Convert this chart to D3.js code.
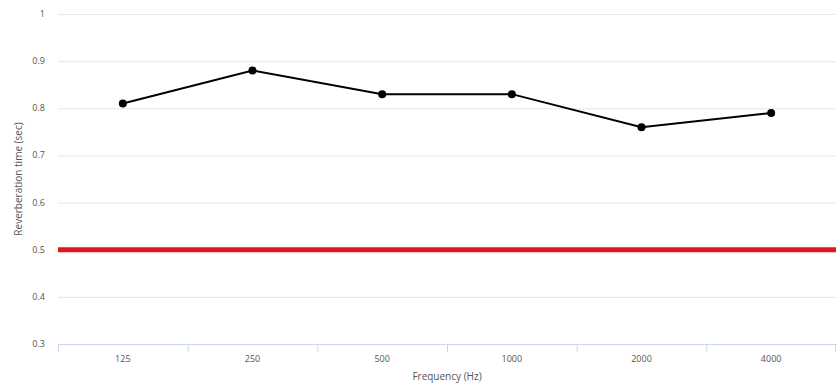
<!DOCTYPE html>
<html>
<head>
<meta charset="utf-8">
<script src="https://cdn.jsdelivr.net/npm/d3@7"></script>
<style>
  html, body { margin: 0; padding: 0; background: #fff; }
  svg { display: block; font-family: "Open Sans", "Liberation Sans", sans-serif; }
</style>
</head>
<body>
<div id="chart"></div>
<script>
// chart values
const frequencies = ["125", "250", "500", "1000", "2000", "4000"];
const reverbTimes = [0.81, 0.88, 0.83, 0.83, 0.76, 0.79];
const yTicks = [0.3, 0.4, 0.5, 0.6, 0.7, 0.8, 0.9, 1];
const targetValue = 0.5;

const width = 840;
const height = 390;
const marginTop = 14;
const marginRight = 4;
const marginBottom = 46;
const marginLeft = 58;

const x = d3.scaleBand()
    .domain(frequencies)
    .range([marginLeft, width - marginRight]);

const y = d3.scaleLinear()
    .domain([0.3, 1])
    .range([height - marginBottom, marginTop]);

const svg = d3.select("#chart")
    .append("svg")
    .attr("width", width)
    .attr("height", height)
    .attr("viewBox", [0, 0, width, height]);

// horizontal grid
svg.append("g")
    .selectAll("line")
    .data(yTicks.filter(d => d > 0.3))
    .join("line")
    .attr("x1", marginLeft)
    .attr("x2", width - marginRight)
    .attr("y1", d => y(d) + 0.5)
    .attr("y2", d => y(d) + 0.5)
    .attr("stroke", "#e6e6e6")
    .attr("stroke-width", 1);

// y tick labels
svg.append("g")
    .selectAll("text")
    .data(yTicks)
    .join("text")
    .attr("x", marginLeft - 13)
    .attr("y", d => y(d) + 3)
    .attr("text-anchor", "end")
    .attr("font-size", 9)
    .attr("fill", "#555")
    .text(d => d3.format("~g")(d));

// x axis
const xAxis = svg.append("g")
    .attr("transform", `translate(0,${height - marginBottom})`)
    .call(d3.axisBottom(x).tickSize(0).tickPadding(12))
    .call(g => g.select(".domain").attr("stroke", "#ccd6eb"))
    .call(g => g.selectAll(".tick text").attr("font-size", 9).attr("fill", "#555")
        .attr("font-family", "\"Open Sans\", sans-serif"));

// x tick marks on band edges
svg.append("g")
    .selectAll("line")
    .data(frequencies.concat(["end"]))
    .join("line")
    .attr("x1", (d, i) => i < frequencies.length ? x(d) + 0.5 : x.range()[1] - 0.5)
    .attr("x2", (d, i) => i < frequencies.length ? x(d) + 0.5 : x.range()[1] - 0.5)
    .attr("y1", height - marginBottom)
    .attr("y2", height - marginBottom + 8)
    .attr("stroke", "#ccd6eb");

// target line
svg.append("line")
    .attr("x1", marginLeft)
    .attr("x2", width - marginRight)
    .attr("y1", y(targetValue))
    .attr("y2", y(targetValue))
    .attr("stroke", "#e0161c")
    .attr("stroke-width", 5);

// series line
const points = frequencies.map((f, i) => ({ f, v: reverbTimes[i] }));
const line = d3.line()
    .x(d => x(d.f) + x.bandwidth() / 2)
    .y(d => y(d.v));

svg.append("path")
    .datum(points)
    .attr("fill", "none")
    .attr("stroke", "#000")
    .attr("stroke-width", 2)
    .attr("d", line);

svg.append("g")
    .selectAll("circle")
    .data(points)
    .join("circle")
    .attr("cx", d => x(d.f) + x.bandwidth() / 2)
    .attr("cy", d => y(d.v))
    .attr("r", 4)
    .attr("fill", "#000");

// axis titles
svg.append("text")
    .attr("x", (marginLeft + width - marginRight) / 2)
    .attr("y", height - 10)
    .attr("text-anchor", "middle")
    .attr("font-size", 10)
    .attr("fill", "#555")
    .text("Frequency (Hz)");

svg.append("text")
    .attr("transform", `translate(22,${(marginTop + height - marginBottom) / 2}) rotate(-90)`)
    .attr("text-anchor", "middle")
    .attr("font-size", 10)
    .attr("fill", "#555")
    .text("Reverberation time (sec)");
</script>
</body>
</html>
